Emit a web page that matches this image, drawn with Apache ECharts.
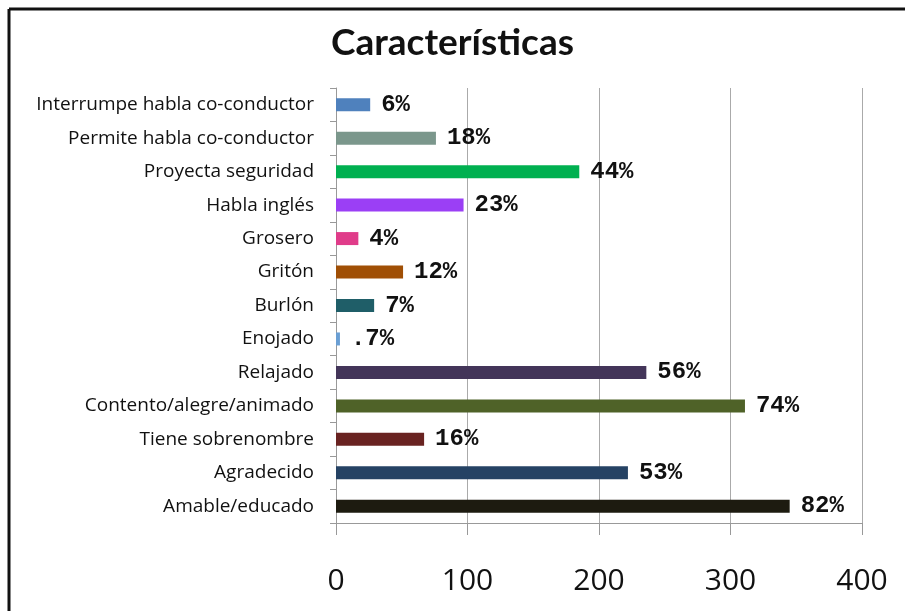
<!DOCTYPE html>
<html>
<head>
<meta charset="utf-8">
<script src="https://cdn.jsdelivr.net/npm/echarts@6/dist/echarts.min.js"></script>
<style>
  html, body { margin: 0; padding: 0; background: #fff; }
  #chart { width: 905px; height: 611px; }
</style>
</head>
<body>
<div id="chart"></div>
<script>
// categorias de arriba hacia abajo
const categories = [
  'Interrumpe habla co-conductor',
  'Permite habla co-conductor',
  'Proyecta seguridad',
  'Habla inglés',
  'Grosero',
  'Gritón',
  'Burlón',
  'Enojado',
  'Relajado',
  'Contento/alegre/animado',
  'Tiene sobrenombre',
  'Agradecido',
  'Amable/educado'
]
const values = [26, 76, 185, 97, 17, 51, 29, 3, 236, 311, 67, 222, 345]
const percents = ['6%', '18%', '44%', '23%', '4%', '12%', '7%', '.7%', '56%', '74%', '16%', '53%', '82%']
const colors = [
  '#4f81bd', '#7b978c', '#00b050', '#9b3ff5', '#e03c8a', '#a04f05',
  '#1f5e68', '#6a9fd4', '#433559', '#4f6228', '#692321', '#254264', '#1d1b10'
]
const xTicks = [0, 100, 200, 300, 400]

const myChart = echarts.init(document.getElementById('chart'))

const option = {
  backgroundColor: '#fff',
  animation: false,
  title: {
    text: 'Características',
    left: 'center',
    top: 20,
    textStyle: {
      fontFamily: 'Lato',
      fontWeight: 'bold',
      fontSize: 37,
      color: '#111'
    }
  },
  graphic: [
    // marco (solo arriba e izquierda visibles)
    { type: 'line', shape: { x1: 9, y1: 9, x2: 905, y2: 9 }, style: { stroke: '#111', lineWidth: 3 } },
    { type: 'line', shape: { x1: 9, y1: 9, x2: 9, y2: 611 }, style: { stroke: '#111', lineWidth: 3 } }
  ],
  grid: {
    left: 336,
    right: 43,
    top: 88,
    bottom: 88
  },
  xAxis: {
    type: 'value',
    min: xTicks[0],
    max: xTicks[xTicks.length - 1],
    interval: 100,
    axisLine: { show: true, lineStyle: { color: '#999', width: 1 } },
    axisTick: { show: true, length: 12, lineStyle: { color: '#999' } },
    splitLine: { show: true, lineStyle: { color: '#aaa', width: 1 } },
    axisLabel: {
      margin: 43,
      fontFamily: 'Open Sans',
      fontSize: 30,
      color: '#111'
    }
  },
  yAxis: {
    type: 'category',
    inverse: true,
    data: categories,
    axisLine: { show: true, lineStyle: { color: '#999', width: 1 } },
    axisTick: { show: true, length: 6, lineStyle: { color: '#999' } },
    axisLabel: {
      margin: 22,
      fontFamily: 'Open Sans',
      fontSize: 19,
      color: '#111'
    }
  },
  series: [
    {
      type: 'bar',
      barWidth: 13,
      data: values.map((v, i) => ({
        value: v,
        itemStyle: { color: colors[i] }
      })),
      label: {
        show: true,
        position: 'right',
        distance: 11,
        fontFamily: 'Liberation Mono',
        fontWeight: 'bold',
        fontSize: 24,
        color: '#111',
        formatter: (p) => percents[p.dataIndex]
      }
    }
  ]
}

myChart.setOption(option)
</script>
</body>
</html>
